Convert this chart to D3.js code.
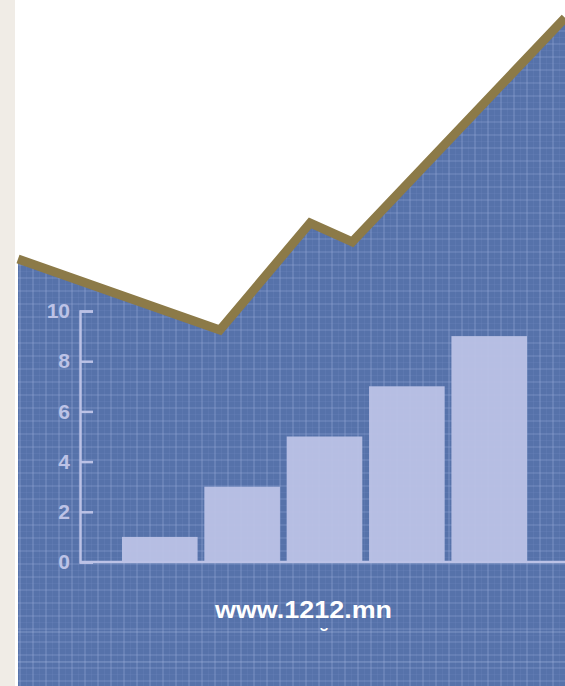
<!DOCTYPE html>
<html>
<head>
<meta charset="utf-8">
<script src="https://cdn.jsdelivr.net/npm/d3@7"></script>
<style>
  html, body { margin: 0; padding: 0; background: #fff; }
  svg { display: block; }
</style>
</head>
<body>
<script>
// bar chart data
const categories = ["1", "2", "3", "4", "5"]
const values = [1, 3, 5, 7, 9]
const yTicks = [0, 2, 4, 6, 8, 10]

// zigzag trend line (position along width 0-100, level 0-100)
const trendPos = [0, 36.9, 53.4, 61.1, 100]
const trendLevel = [26, 5.7, 36.3, 30.9, 94.9]

const siteLabel = "www.1212.mn"

const width = 565
const height = 686

const svg = d3.select("body").append("svg")
    .attr("width", width)
    .attr("height", height)

// beige strip on the left + white page
svg.append("rect").attr("x", 0).attr("y", 0).attr("width", width).attr("height", height).attr("fill", "#fff")
svg.append("rect").attr("x", 0).attr("y", 0).attr("width", 15).attr("height", height).attr("fill", "#f0ece6")

const tx = d3.scaleLinear().domain([0, 100]).range([18, width])
const ty = d3.scaleLinear().domain([0, 100]).range([350, 0])

const trend = trendPos.map((p, i) => [p, trendLevel[i]])

const area = d3.area()
    .x(d => tx(d[0]))
    .y0(height)
    .y1(d => ty(d[1]))

const defs = svg.append("defs")
defs.append("clipPath").attr("id", "blueClip")
  .append("path")
    .attr("d", area(trend))

svg.append("path")
    .attr("d", area(trend))
    .attr("fill", "#5672aa")

// blueprint grid
const grid = svg.append("g").attr("clip-path", "url(#blueClip)")
const step = 13
// faint half lines
grid.selectAll("line.v2")
  .data(d3.range(20 + step / 2, width, step))
  .enter().append("line")
    .attr("x1", d => d).attr("x2", d => d)
    .attr("y1", 0).attr("y2", height)
    .attr("stroke", "#7a92c8").attr("stroke-opacity", 0.18)
grid.selectAll("line.h2")
  .data(d3.range(5 + step / 2, height, step))
  .enter().append("line")
    .attr("x1", 0).attr("x2", width)
    .attr("y1", d => d).attr("y2", d => d)
    .attr("stroke", "#7a92c8").attr("stroke-opacity", 0.18)
grid.selectAll("line.v")
  .data(d3.range(20, width, step))
  .enter().append("line")
    .attr("x1", d => d).attr("x2", d => d)
    .attr("y1", 0).attr("y2", height)
    .attr("stroke", "#93a8d8").attr("stroke-opacity", 0.5).attr("stroke-width", 1.2)
grid.selectAll("line.h")
  .data(d3.range(5, height, step))
  .enter().append("line")
    .attr("x1", 0).attr("x2", width)
    .attr("y1", d => d).attr("y2", d => d)
    .attr("stroke", "#93a8d8").attr("stroke-opacity", 0.5).attr("stroke-width", 1.2)
// lighter seams near the bottom
grid.selectAll("line.seam")
  .data([632, 662])
  .enter().append("line")
    .attr("x1", 0).attr("x2", width)
    .attr("y1", d => d).attr("y2", d => d)
    .attr("stroke", "#a6b6e0").attr("stroke-opacity", 0.35).attr("stroke-width", 1.5)

// gold trend line
svg.append("path")
    .attr("d", d3.line().x(d => tx(d[0])).y(d => ty(d[1]))(trend))
    .attr("fill", "none")
    .attr("stroke", "#8c7a48")
    .attr("stroke-width", 9)
    .attr("stroke-linejoin", "miter")

// bar chart
const x = d3.scaleBand()
    .domain(categories)
    .range([118.6, 530.4])
    .paddingInner(0.082)
    .paddingOuter(0.041)

const y = d3.scaleLinear()
    .domain([0, 10])
    .range([562, 311])

const lav = "#bcc2e6"

svg.selectAll("rect.bar")
  .data(values)
  .enter().append("rect")
    .attr("class", "bar")
    .attr("x", (d, i) => x(categories[i]))
    .attr("y", d => y(d))
    .attr("width", x.bandwidth())
    .attr("height", d => y(0) - y(d))
    .attr("fill", lav)
    .attr("fill-opacity", 0.95)

// baseline
svg.append("line")
    .attr("x1", 80).attr("x2", width)
    .attr("y1", y(0)).attr("y2", y(0))
    .attr("stroke", lav).attr("stroke-width", 2.5)

const yAxis = svg.append("g")
    .attr("transform", "translate(80,0)")
    .call(d3.axisLeft(y).tickValues(yTicks).tickSize(-13).tickSizeOuter(-13).tickPadding(10))

yAxis.select(".domain").attr("stroke", lav).attr("stroke-width", 2.5)
yAxis.selectAll(".tick line").attr("stroke", lav).attr("stroke-width", 2.5)
yAxis.selectAll(".tick text")
    .attr("fill", lav)
    .style("font-family", "'Liberation Sans', Arial, sans-serif")
    .style("font-weight", "bold")
    .style("font-size", "21px")

// site label
svg.append("text")
    .attr("x", 215)
    .attr("y", 618)
    .attr("textLength", 177)
    .attr("lengthAdjust", "spacingAndGlyphs")
    .attr("fill", "#fff")
    .style("font-family", "'Liberation Sans', Arial, sans-serif")
    .style("font-weight", "bold")
    .style("font-size", "24px")
    .text(siteLabel)

svg.append("text")
    .attr("x", 324)
    .attr("y", 645)
    .attr("text-anchor", "middle")
    .attr("fill", "#fff")
    .style("font-family", "'DejaVu Sans', sans-serif")
    .style("font-weight", "bold")
    .style("font-size", "22px")
    .text("˘")
</script>
</body>
</html>
